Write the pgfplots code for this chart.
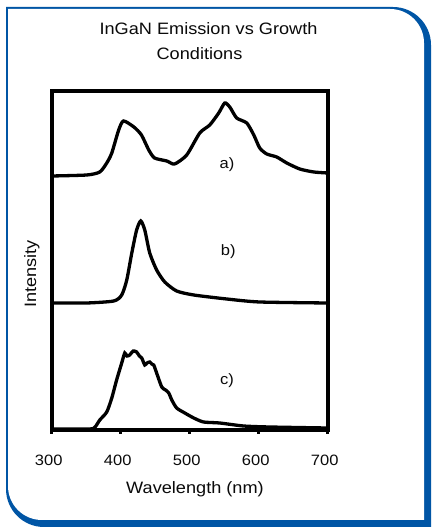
\documentclass[border=0pt]{standalone}
\usepackage{pgfplots}
\pgfplotsset{compat=1.18}
\usepackage{fontspec}
\setmainfont{Liberation Sans}[FakeStretch=1.1]
\definecolor{frameblue}{RGB}{0,85,165}
\definecolor{txt}{RGB}{10,10,10}
\begin{document}
\begin{tikzpicture}[x=1bp,y=1bp]
\useasboundingbox (0,0) rectangle (431,527);
% frame with shadow
\fill[frameblue] (6,520) -- (393,520) arc[start angle=90,end angle=0,radius=38] -- (431,0) -- (44,0) arc[start angle=270,end angle=180,radius=38] -- cycle;
\fill[white] (8,518) -- (390,518) arc[start angle=90,end angle=0,radius=34] -- (424,7) -- (42,7) arc[start angle=270,end angle=180,radius=34] -- cycle;
% titles and labels
\node[anchor=base,text=txt,font=\fontsize{16.5bp}{19bp}\selectfont,inner sep=0] at (208.5,492) {InGaN Emission vs Growth};
\node[anchor=base,text=txt,font=\fontsize{16.5bp}{19bp}\selectfont,inner sep=0] at (199.5,467) {Conditions};
\node[anchor=base,text=txt,font=\fontsize{16.5bp}{19bp}\selectfont,inner sep=0] at (195,33.7) {Wavelength (nm)};
\node[anchor=base,rotate=90,text=txt,font=\fontsize{16.5bp}{19bp}\selectfont,inner sep=0] at (36,253) {Intensity};
\begin{axis}[
  at={(75,97)}, anchor=south west, scale only axis,
  width=276bp, height=339bp,
  xmin=300, xmax=700, ymin=0, ymax=339,
  ytick=\empty, xtick={300,400,500,600,700},
  xtick pos=lower, tick align=outside, major tick length=4bp,
  axis line style={line width=3.5bp, black},
  every tick/.style={line width=3bp, black},
  /pgf/number format/assume math mode=true,
  xticklabel style={font=\fontsize{15bp}{17bp}\selectfont, text=txt, anchor=base, yshift=-32bp, xshift=-3bp},
  spec/.style={black, line width=3.3bp, smooth, tension=0.4, mark=none},
]
\addplot[spec] coordinates {(300,254) (350.7,255) (369.6,258) (379.7,267) (387,277) (397,300) (404,309) (419,303) (430,295) (440.6,280) (449,272) (466.7,269) (478,266) (495.6,275) (514.5,297) (529,305) (542,317) (550.7,327) (558,323) (568,312) (582.6,307) (592.8,295) (601.4,282) (611.6,276) (626,273) (640.6,267) (659.4,261) (679.7,258) (700,257)};
\addplot[spec] coordinates {(300,127) (350.7,127) (389.9,129) (401.4,135) (408.7,150) (416,177) (423,200) (429,209) (434.8,200) (442,177) (452,160) (463.8,148) (481,139) (505.8,135) (553.6,131) (601.4,128) (700,127)};
\addplot[spec] coordinates {(300,1) (355,1) (362.8,3) (369.6,10) (379.7,18) (387,32) (394,50) (401.4,67) (405.8,77) (409,74) (413,75) (418,79) (423,78) (427,74) (430.4,72) (434.8,65) (438,67) (442,68) (445,66) (447.8,65) (452,57) (459.4,43) (465,40) (469.6,37) (474,30) (481,22) (492.8,17) (505.8,12) (520,8) (543.5,7) (578,4) (616,3) (698.6,2)};
\node[text=txt,font=\fontsize{15bp}{18bp}\selectfont] at (axis cs:554,265) {a)};
\node[text=txt,font=\fontsize{15bp}{18bp}\selectfont] at (axis cs:555.8,178) {b)};
\node[text=txt,font=\fontsize{15bp}{18bp}\selectfont] at (axis cs:554,49) {c)};
\end{axis}
\end{tikzpicture}
\end{document}
